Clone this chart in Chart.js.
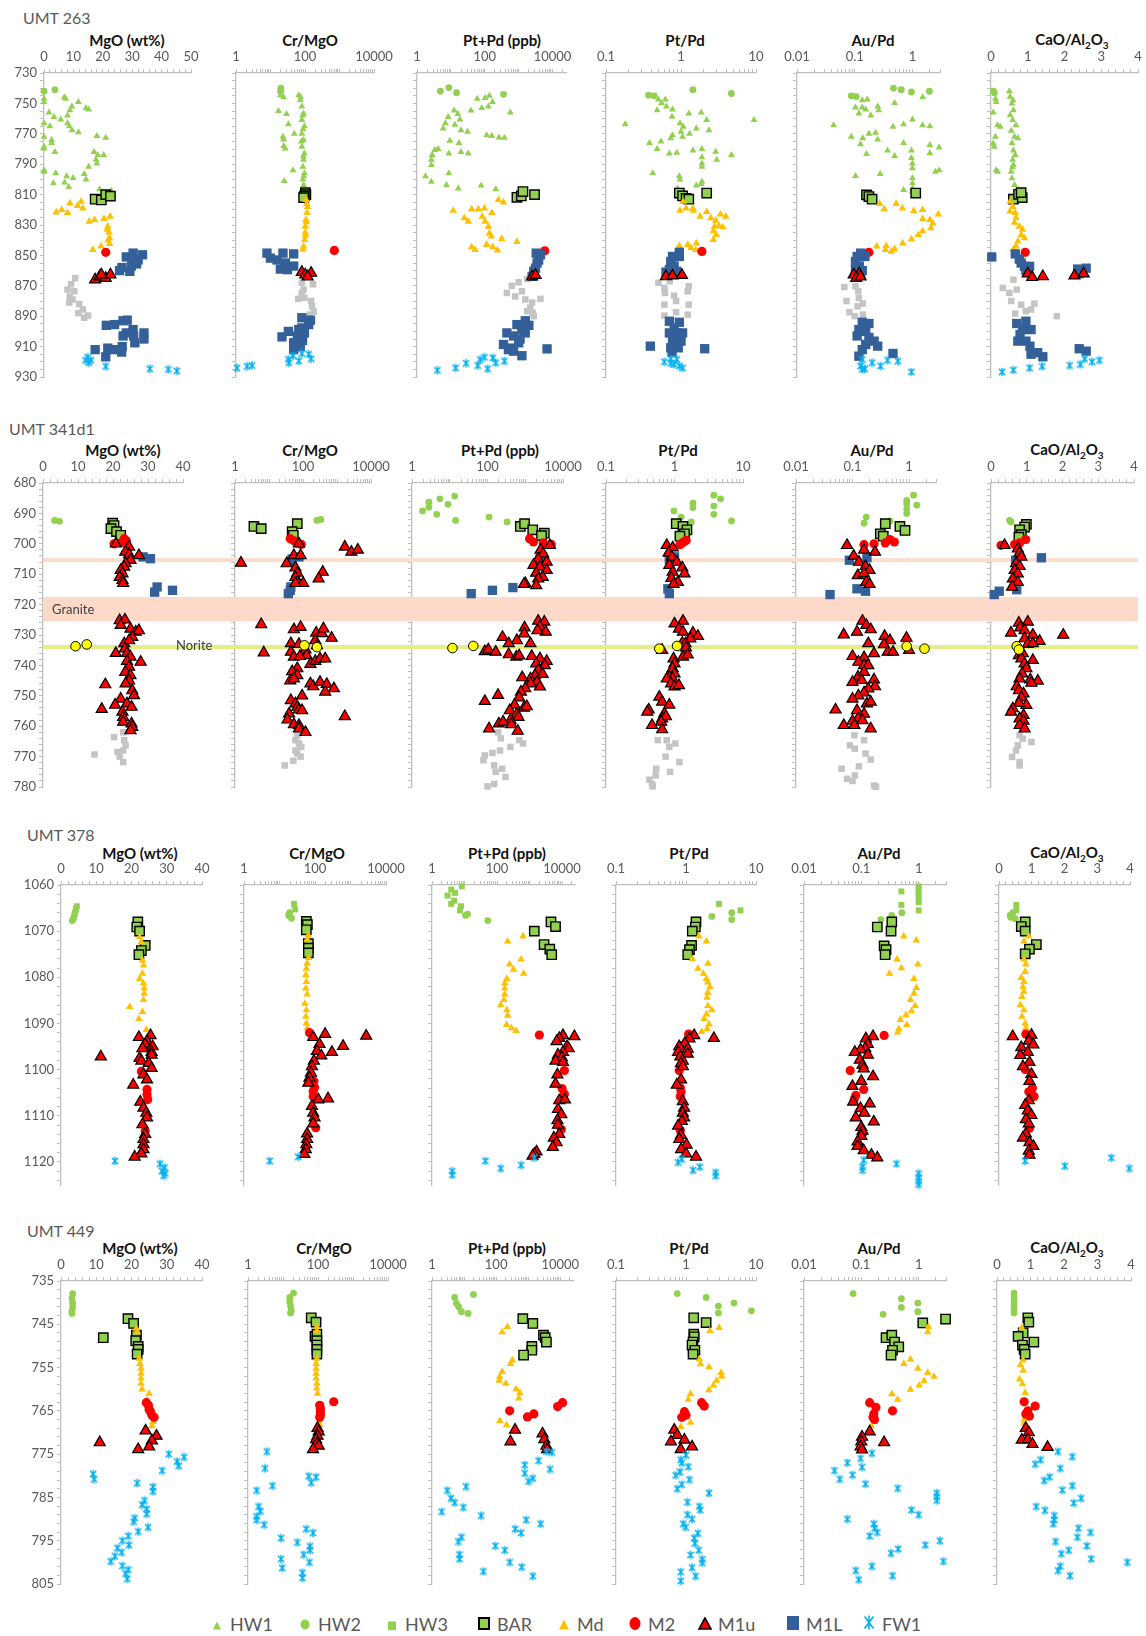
<!DOCTYPE html>
<html>
<head>
<meta charset="utf-8">
<script src="https://cdn.jsdelivr.net/npm/chart.js@4.4.1/dist/chart.umd.min.js"></script>
<style>
  body { margin: 0; background: #fff; font-family: Lato, "Open Sans", sans-serif; }
  #page { position: relative; width: 1146px; height: 1636px; overflow: hidden; }
  #page canvas { position: absolute; }
  .lbl { position: absolute; white-space: nowrap; transform: translate(-50%, -50%); }
  .ttl { font-weight: bold; font-size: 15px; color: #111; }
  .ttl sub { font-size: 10px; }
  .well { position: absolute; font-size: 16px; color: #595959; transform: translateY(-50%); }
  .band { position: absolute; font-size: 13px; color: #404040; transform: translateY(-50%); }
  .leg { position: absolute; font-size: 18px; color: #595959; transform: translateY(-50%); }
  .legm { position: absolute; transform: translate(-50%, -50%); }
</style>
</head>
<body>
<div id="page"></div>
<script>
// ---- labels ----
const wells = ['UMT 263', 'UMT 341d1', 'UMT 378', 'UMT 449'];
const variables = ['MgO (wt%)', 'Cr/MgO', 'Pt+Pd (ppb)', 'Pt/Pd', 'Au/Pd', 'CaO/Al<sub>2</sub>O<sub>3</sub>'];
const seriesNames = ['HW1', 'HW2', 'HW3', 'BAR', 'Md', 'M2', 'M1u', 'M1L', 'FW1'];

// depth axis (m) per well
const depthLimits = [[730, 930], [680, 780], [1060, 1125], [735, 805]];
const depthLabelStep = [20, 10, 10, 10];
const depthMinorStep = [5, 2, 2, 2];

// x axis ranges and tick labels
const mgoMax = [50, 40, 40, 40];
const ptpdMax = [25000, 10000, 25000, 25000];
const mgoLabels = [0, 10, 20, 30, 40, 50];
const crLabels = [1, 100, 10000];
const ptpdLabels = [1, 100, 10000];
const ptRatioLabels = [0.1, 1, 10];
const auPdLabels = [0.01, 0.1, 1];
const caoLabels = [0, 1, 2, 3, 4];

// UMT 341d1 bands: [from, to]
const granite = [717.5, 725.5];
const thinGranite = [704.7, 706.0];
const norite = [733.3, 734.6];

// ---- UMT 263 ----
const umt263_MgO = {
  HW1: [[0,747],[0,749],[6.9,746],[7.4,747],[11.7,749],[9.5,752],[14.3,753],[15.2,754],[1.7,756],[8.8,754.5],[8,758],[3.4,759],[5.7,760.6],[0,763],[8,763],[2,765],[8.6,765],[9.5,767.6],[11.7,769],[0,772],[18,771.5],[21,772.6],[2.6,774],[2.6,776],[0,778.5],[0,779.6],[3.7,782],[17,782],[18.3,784],[20.3,784],[17.7,787],[18,789.5],[15.2,791.7],[0,794],[0,795],[4,796],[13.7,796.5],[7.7,798],[9.9,799],[3.2,802.6],[7,802],[8.4,805],[14.3,800],[18.9,806.5],[22.9,807.4]],
  HW2: [[0,742],[3.7,741]],
  BAR: [[17.4,813],[19.5,813.5],[21,810],[22.6,811]],
  Md: [[4.2,821.6],[6,820],[8,822],[8.8,815.7],[11.4,817.4],[12.6,814.6],[13.2,819],[15.4,827.7],[17.2,826.6],[20.4,826],[22.5,824.4],[21.7,831],[22.1,835],[22.3,838.6],[22.3,842.4],[16.6,846.3],[19.4,844],[21.5,833],[21.8,840]],
  M2: [[21,848]],
  M1u: [[17.4,866],[18.9,864],[21,865],[22.6,862.7],[19.5,862.7]],
  M1L: [[28,851],[30.3,848.5],[33.5,849.6],[32,853],[30.3,854.5],[29.7,857],[31.5,855.6],[29.2,860.5],[25.7,860],[26.5,858],[21.2,896],[24,895.5],[26.9,893],[28.3,892.6],[30.3,898.8],[30.5,903],[34,901],[34,905],[30.9,907.5],[26.9,903],[26.6,910],[24,912],[21.7,911],[26.4,913.6],[17.4,912],[21,916.7],[28,901]],
  GR: [[10.6,865],[9.2,869],[8,872.5],[10.3,873.6],[8.8,877],[9.7,879],[8.6,881],[12,882],[13.2,885.6],[11.7,888],[15,889.6],[13.7,891]],
  FW1: [[14.9,917],[15.2,920.6],[16,919],[14.1,919],[21,923],[36,924.6],[42.3,925],[45.2,926]]
};
const umt263_CrMgO = {
  HW1: [[19.6,744.6],[24,746],[17,755],[29,757],[33,763.7],[23,772],[24,773.7],[49,770],[24,778],[26.8,779.6],[45,794],[25,801],[66,744.6],[73,748],[81,752],[91,756.7],[81,761],[96,765],[81,770],[91,774],[81,778.5],[96,783],[91,787],[87,791.6],[96,796],[87,800],[91,803.7],[75,746],[85,758],[88,767],[78,775],[90,785],[92,798]],
  HW2: [[20,740],[19.6,742]],
  BAR: [[102,808.7],[106,810],[96,811],[91,812]],
  Md: [[109,813.5],[119,818],[114,822],[106,826.6],[102,831],[102,835],[98,839.7],[91,844],[87,846],[112,816],[110,828],[104,837]],
  M2: [[707,846.7]],
  M1u: [[81,861],[102,862.7],[150,861.6],[119,864]],
  M1L: [[7.9,848.5],[9.9,851.8],[15.4,853],[23,848.5],[47,849],[27,855],[19.3,859],[31,859.4],[47,857],[81,891],[144,892.6],[81,897.7],[128,895.5],[66,898.8],[96,901],[33,900],[21.5,903.6],[47,907.5],[66,905],[47,912],[73,910],[60,903],[85,906]],
  GR: [[81,868],[170,869],[91,872.5],[81,874.6],[96,878],[63,878.6],[150,880],[160,883.5],[178,887],[137,889]],
  FW1: [[33,918.4],[45,916],[81,914.5],[128,915],[150,918],[34,920.6],[66,919.5],[1.07,924],[2.1,923],[2.9,922.4]]
};
const umt263_PtPd = {
  HW1: [[60,747],[102,746.5],[137,745],[170,749],[128,752],[81,753],[39,754.6],[12.5,754.6],[16,757],[8.3,759],[18.5,760.6],[6.9,763],[13.1,764],[19.8,767.6],[5.9,766.5],[31,768.7],[114,771],[162,771.5],[265,772.5],[380,772.6],[567,756],[9.3,774.6],[17.3,776],[3.35,780.7],[4.2,780],[2.8,784],[2.65,787],[2.65,790.6],[8.7,783],[19.8,782],[32.6,783],[1.77,798],[2.65,801.5],[8.7,796],[7.4,803.7],[16.5,806],[78,804],[211,806.5]],
  HW2: [[4.9,742],[8.7,739.6],[14.7,743],[357,744]],
  BAR: [[890,811.8],[1200,810.9],[1340,808],[2950,810]],
  Md: [[11.7,820.5],[24.9,825.5],[32.6,827.7],[41,819.6],[65,819.6],[98,819],[84,824.4],[102,827.7],[162,822],[253,813.5],[357,815],[128,831],[137,835.4],[155,837.5],[114,843],[173,844.5],[239,846.7],[317,839],[890,841],[41,844.5],[52,846.3]],
  M2: [[5900,847]],
  M1u: [[2500,864],[3160,863]],
  M1L: [[4400,849.6],[3900,853],[3500,855],[3160,858.4],[2800,860.5],[2500,863.8],[3300,848.5],[1570,893],[890,895.5],[1250,898.8],[450,901],[710,903],[1570,901],[1000,907.5],[357,908.6],[500,912],[710,913],[1250,916],[6900,911.5],[630,911],[1100,905],[2000,896]],
  GR: [[1780,865.5],[1000,867.7],[630,870],[450,874.7],[1250,873.6],[795,877],[1570,879],[2500,881],[4400,878.6],[2200,884.5],[2600,887.8],[1780,886.7],[2800,890]],
  FW1: [[4,925.6],[13.8,924],[28,921],[62,922.4],[73,918.5],[98,917],[173,917.4],[211,920.6],[122,924.6],[380,919.5]]
};
const umt263_PtRatio = {
  HW1: [[0.5,747.5],[0.55,749.7],[0.62,747.5],[0.64,752],[0.77,754],[0.76,758.8],[0.48,754.5],[0.18,763.7],[1.27,756.6],[1.86,756],[2.2,761],[0.97,763],[1.07,765.4],[1.6,766.5],[2.36,767.6],[1,768.7],[1.3,770],[0.77,771],[0.73,773],[1.05,772],[0.38,776],[0.54,775],[0.48,780],[0.7,783],[0.88,782.5],[1.44,781],[1.9,780],[2.9,781.8],[4.7,784],[3,787],[1.9,785.5],[1.9,789.5],[1.9,791.7],[9.4,761],[0.42,796],[0.95,798],[0.97,800],[1.9,801.5],[1.6,804],[0.9,806],[1.86,803]],
  HW2: [[0.37,744.6],[0.44,745],[1.44,741],[4.7,743.5]],
  BAR: [[0.95,809],[1.05,810.9],[1.17,812.4],[1.27,813],[2.2,809]],
  Md: [[1.07,814.6],[0.97,820.5],[1.17,819],[1.44,819],[1.47,820.5],[1.8,824.4],[2.2,821.3],[2.5,825.5],[2.9,827],[3.35,823],[3.95,824.4],[2.8,831],[3.2,830.6],[3.6,831.4],[2.7,834],[2.95,836.5],[2.7,839.7],[0.95,843.7],[1.23,843],[1.6,842],[1.57,846.3],[1.36,845]],
  M2: [[1.9,847.4]],
  M1u: [[0.63,863.8],[0.77,863.4],[1.03,863]],
  M1L: [[0.95,848],[0.77,850.7],[0.73,854],[0.81,857],[0.7,859.4],[0.88,860.5],[0.63,861],[0.95,850.7],[0.7,893.3],[0.95,894],[0.81,897.7],[0.7,901],[0.9,901],[1.05,901],[0.77,906.4],[1,906.4],[0.73,910.8],[0.92,910.8],[0.39,909.7],[2.07,911.4],[0.76,913.6]],
  GR: [[0.5,868],[0.6,871.4],[0.71,867],[0.61,874.7],[0.81,876.5],[1.27,870.3],[1.23,873.6],[0.86,880],[0.6,882.4],[1.27,882.4],[0.86,887.4],[0.6,889.6],[1.23,889]],
  FW1: [[0.6,920],[0.73,918],[0.88,918.4],[0.81,921.7],[0.95,922.8],[1.05,924],[0.73,921]]
};
const umt263_AuPd = {
  HW1: [[0.135,748],[0.165,747.5],[0.103,752.7],[0.135,752.7],[0.118,756.7],[0.155,754],[0.25,752],[0.26,754.5],[0.19,758],[0.49,749.7],[1.5,746],[0.043,764.3],[0.087,772],[0.138,773],[0.176,770],[0.23,769.3],[0.46,765.4],[0.7,763.7],[1,760.6],[1.5,764.3],[2,765],[0.126,776.8],[0.25,773.7],[0.37,781],[0.49,784.6],[0.7,776],[0.96,781],[2,777.4],[2.9,779],[2,782.8],[0.16,783.3],[0.96,786],[1,789.5],[1,792.7],[2.5,795],[2.9,794],[0.103,797.8],[0.276,796.5],[1,799],[1,802.6],[1,806],[0.7,807],[1,808]],
  HW2: [[0.087,745],[0.106,745.5],[0.47,740],[0.64,741],[0.96,742.5],[1.97,742]],
  BAR: [[0.16,810.2],[0.176,811.3],[0.2,813],[1.14,809]],
  Md: [[0.27,816],[0.325,819.6],[0.52,816],[0.67,819],[1.05,820.7],[1.5,820],[2.8,823],[1.5,826],[2,826.6],[2.25,828.8],[2.08,832],[1.5,834],[1.26,836.5],[0.96,839.3],[0.68,842],[0.49,845.8],[0.35,843.7],[0.24,844],[0.34,846.3],[0.43,847.4]],
  M2: [[0.176,848]],
  M1u: [[0.096,862.7],[0.12,862],[0.106,865],[0.126,864]],
  M1L: [[0.11,850.7],[0.127,848.5],[0.103,854],[0.12,857],[0.135,860],[0.103,859.4],[0.15,850.7],[0.135,894],[0.176,894.8],[0.118,898.8],[0.155,900],[0.11,903],[0.176,904],[0.217,906.4],[0.155,908.6],[0.135,912],[0.118,916.3],[0.46,914.5],[0.25,909.7]],
  GR: [[0.066,870.8],[0.103,870.3],[0.115,873.6],[0.072,880],[0.118,878],[0.138,881.7],[0.112,883.5],[0.081,887.4],[0.138,889],[0.1,890]],
  FW1: [[0.135,918.5],[0.126,922.8],[0.15,924.6],[0.2,920.6],[0.28,922.8],[0.37,919],[0.56,919.6],[0.96,926.7],[0.135,925]]
};
const umt263_CaO = {
  HW1: [[0.12,747],[0.14,749],[0.18,764.3],[0.25,765.4],[0.12,772],[0.06,776.3],[0.09,778.5],[0.14,794],[0.18,795],[0.5,742],[0.52,745.7],[0.57,750],[0.61,754.5],[0.52,757.8],[0.59,761],[0.68,764.3],[0.55,768],[0.64,772],[0.73,773],[0.57,776],[0.61,781],[0.66,784],[0.59,787],[0.61,790.5],[0.55,795],[0.57,799.3],[0.64,803.7],[0.75,807],[0.06,756],[0.6,748],[0.58,792]],
  HW2: [[0.06,742],[0.09,743]],
  BAR: [[0.61,813],[0.75,809.8],[0.85,812],[0.82,808.7]],
  Md: [[0.52,814.6],[0.59,818],[0.52,821],[0.66,822],[0.68,825.5],[0.64,828.4],[0.77,831],[0.86,833],[0.82,836.5],[0.91,838.6],[0.73,840.8],[0.68,844],[0.61,846]],
  M2: [[0.93,848]],
  M1u: [[1,862],[1.12,864.4],[1.41,863.8],[2.27,863.4],[2.52,862]],
  M1L: [[0.02,851],[0.66,849],[0.77,852.4],[0.82,855],[0.91,857.2],[1.05,857.2],[0.95,859.8],[2.36,859],[2.59,858.4],[2.4,862],[0.7,894.8],[0.95,893.3],[0.86,898.8],[1.09,898.8],[0.79,902],[0.95,906.4],[0.73,906.4],[1.06,909.7],[1.27,914],[1.41,916.7],[1.09,915],[2.4,911.4],[2.59,913]],
  GR: [[0.61,866],[0.32,871.4],[0.5,874.7],[0.7,872.5],[0.55,880],[0.82,882.4],[0.95,886.7],[0.66,888.3],[1.18,881.7],[1.79,890],[1.09,885.6]],
  FW1: [[0.3,926.7],[0.61,925.4],[1.05,924],[1.39,923],[2.14,922.4],[2.43,921.7],[2.55,918],[2.75,920],[2.95,919]]
};

// ---- UMT 341d1 ----
const umt341_MgO = {
  HW2: [[3.3,692.3],[4.7,692.6]],
  BAR: [[19.9,693.2],[20.3,694],[19.4,695],[21,696],[22.2,697.2]],
  M2: [[23.2,698.3],[22.7,699.4],[23.4,699.7],[20.3,700],[23.8,699]],
  M1u: [[20.8,700],[24.6,701],[23.5,702.7],[24.6,703.5],[27.4,703.8],[25,705.4],[23.6,706.5],[23.2,707.6],[22.2,708.7],[22.7,709.8],[21.9,711],[22.7,712],[22.9,713],[21.9,725.2],[23.4,725],[22.2,726.8],[25,728],[26.5,729],[25.5,730.7],[27.4,728.5],[23.2,732.8],[24.6,731.8],[20.8,736],[23.4,734.5],[24,736],[25,737.2],[24,738.6],[27.9,738.9],[24.6,740.5],[23.5,742.2],[25,743.3],[24.6,745],[23.6,746],[17.8,746.3],[25.5,748.2],[26,749.9],[22.2,751],[20.6,753],[24,752.6],[25.3,753.7],[16.8,754.4],[22.7,755.3],[22.9,757],[22.9,758.6],[25.3,759.2],[25.5,760.3],[25,761.4]],
  M1L: [[28.6,704.3],[30.7,704.9],[32.6,714.2],[31.9,715.9],[37,715.3]],
  NOR: [[9.3,733.7],[12.5,733.1]],
  GR: [[22.9,762],[20.3,763.6],[23.2,764.6],[23.6,766.3],[21.3,768.5],[14.7,769.3],[22.9,768],[21.9,770],[22.9,771.8]]
};
const umt341_CrMgO = {
  HW2: [[257,692.3],[334,692]],
  BAR: [[3.6,694.3],[5.9,695],[68,693.4],[48,696],[52,697.2]],
  M2: [[42,698.3],[54,699],[68,699.7],[89,700.2]],
  M1u: [[76,700],[54,703.8],[85,703.8],[1.5,706.3],[33,706.5],[60,707.9],[68,709.6],[60,711],[68,712.6],[101,713],[380,709.3],[287,711.5],[1700,701],[2650,702.7],[4100,702],[60,713],[5.9,726.5],[7,735.8],[54,728.2],[85,727.4],[44,732.8],[76,733],[118,734.8],[128,736.7],[44,735.6],[54,737.2],[81,737],[165,739.6],[230,738.6],[317,737.8],[245,729.3],[360,729.5],[400,727.9],[695,731],[230,731.8],[257,733.4],[450,737.8],[68,741],[48,742],[68,743.3],[42,745],[54,744.4],[165,746],[200,746.9],[317,745.5],[500,746.2],[810,747.6],[450,748.7],[94,750],[44,751.5],[60,752.6],[68,753.7],[39,755.9],[76,754.6],[94,754.8],[35,757.9],[54,759.4],[76,759.7],[76,760.8],[1700,756.8],[118,762]],
  M1L: [[48,705],[76,704.3],[44,705.7],[44,714.2],[42,715.3],[37,716.4]],
  NOR: [[110,733.4],[257,734]],
  GR: [[68,763],[60,764.6],[76,765.7],[89,766.8],[68,769],[85,770],[52,771.4],[29,772.9],[60,768]]
};
const umt341_PtPd = {
  HW2: [[1.9,689.2],[2.8,686.3],[2.8,688],[5.5,685.2],[9,687],[13.5,684.3],[4.5,690.3],[14.3,692.3],[110,691.2],[330,692.8]],
  BAR: [[740,694.3],[960,693.4],[1580,695.4],[3200,696.5],[2700,697.3]],
  M2: [[1300,698.3],[1650,699.4],[3000,699.7],[4900,700.2]],
  M1u: [[4500,700.5],[2550,702],[3000,703.3],[2200,705],[3700,706],[1650,707],[2450,707.6],[1950,709.6],[3700,708.7],[2900,711],[2200,711.5],[1000,713],[920,713.3],[1950,713.7],[2200,725.4],[3200,725.7],[2450,727.2],[3500,729],[2100,728.5],[960,727.6],[600,731.8],[940,729.6],[250,730.7],[365,732.8],[1370,732.8],[85,735.4],[105,734.8],[165,735.6],[365,736.4],[580,737.2],[690,736.8],[1480,737],[2450,737.8],[3700,738.6],[3300,740],[1950,739.4],[2200,741.6],[2900,742.9],[1810,743.3],[1370,744.4],[830,744],[2050,745.5],[2450,747],[1400,746],[1000,747.6],[770,748.7],[690,750.6],[85,751.8],[190,749.8],[520,753],[920,754],[1100,753.5],[390,754.8],[600,756],[660,757],[405,758],[200,759.2],[260,758.6],[425,759.4],[110,760.8],[630,761.6]],
  M1L: [[2450,705],[2900,704.3],[37,716.4],[135,715.3],[470,714.4]],
  NOR: [[11.8,734.3],[42,733.6]],
  GR: [[190,762],[225,764],[405,766.8],[690,764.6],[870,765.7],[215,768],[135,768.8],[85,769.6],[78,771.2],[150,772.9],[245,774],[300,776.7],[165,775],[150,779],[100,779.8]]
};
const umt341_PtRatio = {
  HW2: [[0.98,689.2],[1.25,691.2],[1.86,686.6],[1.86,688.1],[3.75,684],[4.7,685.2],[3.75,687.6],[3.75,690.3],[6.8,692.5],[1.76,692.8]],
  BAR: [[1.06,693.4],[1.33,694.3],[1.52,695.4],[1.4,696.7],[1.2,697.5]],
  M2: [[1.25,700],[1.36,699.4],[1.48,698.9],[1.2,700.3]],
  M1u: [[0.77,700.5],[0.94,701.3],[0.82,703],[0.92,704.3],[0.84,707],[1.08,706],[1.3,707.9],[1.4,709.8],[0.94,709.3],[0.9,711.3],[1.12,712.6],[0.97,713.3],[1,726.3],[1.33,725.4],[1.16,728],[1.33,729],[1.86,729.3],[2.2,730.4],[1.7,731.2],[1.3,732.6],[1.45,732.8],[1.47,734.2],[0.66,735],[1.33,737.2],[1.56,736.5],[0.97,737.8],[1,739.4],[0.94,741],[1,742.7],[0.84,743.8],[0.94,744.4],[0.77,744.4],[0.89,746],[1,747],[1.16,746.6],[0.6,750.4],[0.66,752],[0.84,753],[0.42,754.6],[0.4,755.3],[0.71,755.9],[0.66,757.5],[0.75,756.8],[0.64,758.6],[0.47,759.7],[0.66,761.1]],
  M1L: [[0.84,705.2],[1,704.3],[0.8,714.8],[0.84,716.4]],
  NOR: [[0.6,734.5],[1.09,733.6]],
  GR: [[0.57,764.6],[0.77,764.6],[0.84,766.8],[1.03,765.7],[0.74,770],[1.18,771.8],[0.86,775],[0.54,774],[0.53,776.2],[0.43,777.6],[0.47,779],[0.48,779.8]]
};
const umt341_AuPd = {
  HW2: [[0.91,685.7],[0.91,686.8],[0.91,688.4],[0.91,690],[1.2,684],[1.37,687.3],[0.175,691.2],[0.16,693.2],[0.46,692.5]],
  BAR: [[0.38,693.4],[0.31,696.7],[0.35,697.5],[0.69,694.3],[0.85,695.6]],
  M2: [[0.16,700.3],[0.24,700],[0.38,699.7],[0.46,698.6],[0.55,699.4]],
  M1u: [[0.08,700.5],[0.105,704],[0.16,702],[0.25,702.7],[0.13,706],[0.17,707.4],[0.2,708.7],[0.124,710.4],[0.16,709.8],[0.175,712.6],[0.2,713.3],[0.15,725.4],[0.175,726.8],[0.21,728.2],[0.12,729],[0.07,729.9],[0.19,732.8],[0.37,730.4],[0.46,731.8],[0.36,733.1],[0.9,731],[0.42,735.6],[0.52,735.6],[1,735],[0.1,737],[0.24,736.1],[0.16,737.4],[0.127,738.9],[0.16,740],[0.19,740],[0.125,743.8],[0.16,742.2],[0.145,744.9],[0.1,745.5],[0.24,744.7],[0.25,746.9],[0.19,747.7],[0.16,749],[0.127,750],[0.1,751],[0.18,752.6],[0.21,752],[0.05,754.6],[0.12,754.8],[0.16,756],[0.125,757.5],[0.1,758.3],[0.15,758.1],[0.07,759.7],[0.108,759.7],[0.21,760.8]],
  M1L: [[0.088,705.4],[0.18,704.6],[0.12,714.8],[0.17,715.6],[0.04,716.7]],
  NOR: [[0.91,733.7],[1.88,734.5]],
  GR: [[0.108,763],[0.16,764.6],[0.09,766.3],[0.11,767.4],[0.17,769],[0.21,771],[0.064,774],[0.13,773.2],[0.11,776.2],[0.08,777.3],[0.1,778],[0.24,779.5],[0.26,779.9]]
};
const umt341_CaO = {
  HW2: [[0.52,692.3],[0.56,692.8]],
  BAR: [[0.99,693.6],[0.94,694.5],[0.8,695.4],[0.85,697],[0.78,697.8]],
  M2: [[0.28,700.5],[0.66,700.2],[0.8,699.7],[0.97,698.6]],
  M1u: [[0.38,700.5],[0.75,701.6],[0.8,703],[0.85,704.3],[0.7,706.5],[0.8,707.4],[0.66,708.7],[0.75,709.8],[0.61,711.5],[0.75,712.6],[0.59,714.2],[0.78,726],[1.03,725.7],[0.82,727.6],[0.94,728.5],[0.56,729.3],[1.17,730],[1.36,732],[2.02,730],[0.94,731.1],[1.03,733],[1.17,732.8],[0.78,736.7],[0.89,736.1],[0.85,737.8],[1.17,738.3],[0.94,739.4],[0.99,741],[0.87,742.7],[0.8,744.4],[1.1,744.7],[1.31,745.1],[1.13,745.8],[0.72,746.9],[0.78,748.2],[0.91,749.3],[0.85,750.6],[0.99,753.1],[0.78,752.4],[0.61,754.2],[0.56,755.3],[0.91,756.4],[0.8,757.5],[0.91,758.3],[0.8,759.7],[0.94,760.8]],
  M1L: [[0.69,705.4],[1.41,704.6],[0.23,715.6],[0.09,716.7],[0.72,715.1]],
  NOR: [[0.72,733.7],[0.78,734.8]],
  GR: [[0.8,763],[0.89,764.1],[1.13,765.2],[0.75,766.3],[0.7,768],[0.59,770.1],[0.8,771.8],[0.8,772.9]]
};

// ---- UMT 378 ----
const umt378_MgO = {
  HW2: [[4,1065.9],[3.8,1066.6],[3.5,1067.3],[3.2,1067.7]],
  HW3: [[4.5,1064.6],[4.2,1065.2]],
  BAR: [[21.8,1068],[21.5,1069.1],[22.3,1070],[23.9,1073.1],[22.8,1074.2],[22.1,1075.1]],
  Md: [[22.3,1071.3],[22.8,1072.4],[23.1,1076.3],[23.4,1077.4],[23.1,1079.2],[22.3,1080.3],[23.4,1081.3],[23.6,1082.4],[23.6,1083.5],[23.4,1084.9],[19.5,1086.4],[23.1,1087.5],[22.1,1089],[24.2,1091.4]],
  M2: [[22.8,1100.4],[24.4,1104.3],[24.4,1105.4],[24.6,1106.5],[23.9,1113.3]],
  M1u: [[22.1,1093],[25.4,1092.6],[24.4,1093.8],[23.9,1094.5],[26,1095],[23.1,1095.4],[25.7,1096.2],[25.7,1096.8],[11.3,1097.2],[22.3,1097.5],[22.8,1098.1],[24.9,1098.6],[25.7,1099.7],[23.4,1101.1],[24.4,1102.2],[20.5,1103.3],[22.5,1107],[23.4,1108.3],[24.2,1109.4],[24.4,1110.4],[23.1,1111.9],[23.9,1114],[23.4,1115.1],[23.4,1116.2],[23.4,1117.3],[22.8,1118.2],[20.9,1118.9]],
  FW1: [[15.3,1119.8],[28.1,1120.4],[29.4,1121.2],[28.6,1122],[29.6,1122.5],[29.1,1123]]
};
const umt378_CrMgO = {
  HW2: [[19.2,1066],[18,1066.6],[21.7,1067.2]],
  HW3: [[25.7,1064.1],[27.7,1065.3]],
  BAR: [[57,1067.9],[61,1068.6],[57,1069.7],[65,1072.7],[65,1073.7],[65,1074.7]],
  Md: [[65,1070.9],[60,1071.8],[66,1075.8],[60,1077],[57,1078.1],[55,1079.5],[57,1081],[55,1082.4],[60,1083.7],[52,1085.7],[57,1087.1],[55,1088.5],[57,1090],[60,1091]],
  M2: [[70,1092],[93,1102.5],[97,1103.8],[89,1104.7],[89,1105.8],[105,1112.6]],
  M1u: [[89,1093],[193,1092.3],[2760,1092.7],[134,1094.5],[620,1094.9],[113,1096],[300,1096.2],[150,1097],[93,1098.1],[82,1099.3],[77,1100.7],[70,1101.8],[65,1102.9],[124,1106.5],[233,1106.3],[82,1107.9],[89,1109.4],[97,1110.4],[89,1111.7],[60,1113.9],[60,1115.1],[57,1116.2],[55,1117.3],[50,1118.3]],
  FW1: [[5.3,1119.8],[33.6,1118.9]]
};
const umt378_PtPd = {
  HW2: [[10.8,1066.6],[12.4,1066.3],[52,1067.7]],
  HW3: [[8.3,1060.3],[3.9,1061],[5.1,1061.7],[3,1062.3],[4.8,1063.4],[3.9,1064.1],[7.8,1064.6],[7.2,1065.5]],
  BAR: [[4560,1068],[6300,1069],[1400,1070],[2800,1072.9],[4200,1073.9],[4800,1075.1]],
  Md: [[213,1072.2],[630,1071.1],[244,1077.2],[320,1078.3],[550,1076.1],[660,1079.2],[200,1080.3],[172,1081.3],[172,1082.4],[172,1083.7],[163,1084.9],[130,1086],[200,1087.1],[213,1088.3],[196,1090.3],[278,1091],[385,1091.6]],
  M2: [[2000,1092.5],[11800,1100.2],[10000,1104.1],[11800,1105.3],[9500,1113]],
  M1u: [[24000,1092.8],[10700,1092.6],[8200,1093.2],[6800,1093.9],[14100,1095],[16000,1095.4],[10700,1096.2],[7500,1096.8],[9900,1097.4],[6300,1098.1],[10700,1098.4],[7200,1101.1],[6300,1103.1],[8200,1106.7],[12300,1106.5],[7500,1108.6],[9500,1109.7],[7200,1111],[7500,1112],[8200,1114],[5600,1114.8],[6800,1115.8],[5200,1116.8],[1640,1117.8],[1400,1118.3],[1240,1118.7]],
  FW1: [[1400,1119.1],[44,1119.8],[130,1121.4],[550,1120.7],[4.2,1122],[4.2,1122.8]]
};
const umt378_PtRatio = {
  HW2: [[2.34,1066.8],[4.5,1066],[4.5,1067.5]],
  HW3: [[2.96,1064.1],[6,1065.5]],
  BAR: [[1.39,1068],[1.36,1069.1],[1.23,1070],[1.2,1073.1],[1.12,1074],[1.06,1075.1]],
  Md: [[1.53,1071.1],[1.96,1072.2],[1.23,1076],[2.05,1077],[1.48,1078.1],[1.77,1079.2],[1.96,1080.3],[2.05,1081.1],[2.2,1082.1],[2.05,1083.3],[2,1084.4],[2.05,1086.2],[2.34,1087.1],[1.96,1088],[1.82,1089],[2.13,1090.2],[1.67,1091.8],[2,1091.2]],
  M2: [[1.09,1092.3],[0.8,1100.2],[0.83,1104],[0.85,1104.8],[0.83,1105.8],[0.83,1113.2]],
  M1u: [[1.31,1092.6],[2.5,1093.2],[1.12,1093.3],[0.96,1094.3],[0.8,1095],[1.06,1095.5],[0.77,1096.2],[1.06,1096.6],[0.83,1097.2],[0.9,1098.1],[0.85,1098.6],[0.9,1099.3],[0.85,1102.2],[0.74,1103.3],[0.9,1106.9],[0.94,1108.3],[0.9,1109.4],[0.94,1110.4],[0.87,1111.2],[0.77,1112.2],[0.85,1114.2],[0.8,1115.1],[1.02,1116.3],[0.85,1117.3],[1,1118.2],[1.39,1118.9]],
  FW1: [[0.77,1120.1],[0.87,1119.4],[1.26,1121.8],[1.57,1121.1],[2.65,1122.3],[2.65,1123]]
};
const umt378_AuPd = {
  HW2: [[0.51,1066],[0.34,1066.6],[0.22,1067.5]],
  HW3: [[0.5,1061.4],[1,1060.3],[1,1061],[1,1062],[1,1062.9],[1,1063.7],[0.5,1064.3],[1,1065.5]],
  BAR: [[0.34,1068],[0.19,1069.1],[0.33,1070],[0.25,1073.2],[0.27,1074],[0.26,1075.1]],
  Md: [[0.55,1071.1],[0.91,1072],[0.42,1076.1],[0.5,1078],[0.97,1077.2],[0.31,1079.2],[0.83,1080.3],[0.91,1082.3],[0.83,1083.5],[0.72,1084.9],[0.87,1086.2],[0.75,1087.3],[0.6,1088.2],[0.48,1089.2],[0.62,1090.3],[0.43,1091.9],[0.45,1091.2]],
  M2: [[0.25,1092.6],[0.064,1100.2],[0.11,1104.3],[0.08,1105.6],[0.075,1106.5],[0.105,1113.9]],
  M1u: [[0.16,1092.8],[0.12,1093.3],[0.13,1094.5],[0.117,1095.4],[0.097,1095.7],[0.077,1096.2],[0.13,1096.8],[0.094,1097.9],[0.105,1099],[0.11,1099.8],[0.16,1101.5],[0.1,1102.5],[0.07,1103.6],[0.072,1107],[0.14,1107.4],[0.097,1108.4],[0.113,1109.4],[0.08,1110.4],[0.165,1111.3],[0.1,1112.5],[0.105,1113.3],[0.1,1114.4],[0.086,1115.6],[0.086,1116.6],[0.11,1117.5],[0.15,1118.5],[0.19,1119.1]],
  FW1: [[0.11,1119.6],[0.105,1121.1],[0.105,1121.8],[0.41,1120.4],[1,1122.5],[1,1123.4],[1,1124.2],[1,1124.9]]
};
const umt378_CaO = {
  HW2: [[0.34,1066.6],[0.42,1066],[0.5,1067.3],[0.36,1067]],
  HW3: [[0.53,1064.3],[0.53,1065.5]],
  BAR: [[0.8,1068],[0.68,1069],[0.8,1070],[1.14,1072.9],[0.93,1073.9],[0.8,1074.9]],
  Md: [[0.91,1071.1],[0.76,1072.2],[0.76,1076.1],[0.82,1077.2],[0.8,1078.8],[0.68,1080.1],[0.76,1081],[0.73,1082.1],[0.76,1083.1],[0.7,1084.2],[0.65,1086],[0.76,1087.1],[0.7,1088.5],[0.8,1090],[0.82,1091]],
  M2: [[0.82,1092.3],[0.8,1100],[1.02,1104],[0.91,1104.8],[1.07,1105.8],[0.93,1112.7]],
  M1u: [[0.42,1092.8],[0.99,1092.5],[0.91,1093.8],[1.05,1094.6],[0.68,1095.2],[0.88,1096.2],[0.65,1096.9],[0.93,1098.4],[0.73,1099.3],[0.99,1101],[0.93,1102.5],[0.91,1106.7],[0.8,1107.7],[0.88,1108.9],[0.99,1109.9],[0.82,1110.8],[0.91,1111.7],[0.82,1113.9],[0.73,1114.8],[0.93,1115.8],[1.05,1116.6],[0.91,1117.6],[0.93,1118.5]],
  FW1: [[0.8,1119.8],[2.01,1120.9],[3.43,1119.1],[3.98,1121.4]]
};

// ---- UMT 449 ----
const umt449_MgO = {
  HW2: [[3.3,737.9],[3.1,739.1],[3.3,740.1],[3.3,741.1],[3.1,742.1],[3.1,742.5]],
  BAR: [[19,743.7],[20.6,744.8],[12,748.1],[21.4,747.5],[21.2,748.8],[21.9,750.1],[21.9,750.8],[21.6,751.9]],
  Md: [[21.4,746],[21.6,746.8],[22.2,752.9],[22.4,754.1],[22.7,755.2],[22.7,756.4],[22.7,757.5],[22.7,758.7],[23,760],[25,761],[24.5,762.5],[26.1,767.5],[25.8,768.5]],
  M2: [[24.2,763.1],[24.8,763.7],[25,764.7],[25.4,765.2],[25.8,766],[26.4,766.5]],
  M1u: [[24,769.6],[27.1,770.8],[11,772.3],[25.8,771.9],[25,773.3],[21.9,773.9]],
  FW1: [[30.6,775],[34.9,775.7],[32.9,776.7],[33.4,777.7],[28.7,778.8],[9.1,779.6],[9.4,780.8],[21.6,781.7],[26.1,782.6],[26.1,783.6],[23.7,785.7],[23,786.7],[24.3,787.7],[24.3,788.8],[20.9,789.8],[20.6,790.6],[24.7,791.9],[21.9,792.9],[19.1,793.9],[17.4,795],[19.3,796],[16,796.7],[17.2,797.7],[15.3,798.6],[14.1,799.8],[17.4,800.8],[19.1,801.7],[18.3,802.6],[18.8,803.8]]
};
const umt449_CrMgO = {
  HW2: [[20,737.8],[15.6,738.8],[15.6,739.8],[16.4,740.8],[17.2,741.8],[16.4,742.4]],
  BAR: [[64,743.5],[88,744.5],[82,747.8],[93,747.3],[93,748.8],[93,749.8],[93,750.8],[93,751.9]],
  Md: [[93,745.6],[93,746.5],[93,752.9],[88,754.1],[88,755.2],[88,756.4],[88,757.5],[93,758.7],[93,759.8],[97,761],[105,767.5],[112,768.3]],
  M2: [[282,762.9],[112,763.7],[117,764.4],[117,765.2],[117,766],[112,766.5]],
  M1u: [[97,769],[105,769.8],[97,770.8],[88,771.6],[93,772.5],[105,773.1],[72,773.9]],
  FW1: [[3.45,774.4],[3.05,778.3],[5,782.3],[1.77,783.4],[2,787.1],[2.26,788.2],[1.77,789.4],[1.77,790.2],[2.9,791.3],[8.8,794.4],[8.8,799.2],[9.5,801.3],[54,780.1],[88,780.3],[64,781.6],[25.6,795.4],[59,796.3],[59,797.2],[39,798.2],[57,800],[46,792.3],[72,793.2],[36,802.4],[36,803.6]]
};
const umt449_PtPd = {
  HW2: [[5.1,738.8],[5.8,740.2],[6.8,741],[8.3,742.1],[13.4,742.5],[19.7,738.1]],
  BAR: [[680,743.7],[1400,744.8],[3000,747.5],[3400,748.1],[3700,749.1],[1300,750.1],[1300,751],[720,752.1]],
  Md: [[155,746.8],[225,745.6],[320,753.3],[280,754.1],[155,756],[130,757.1],[125,758],[200,758.7],[420,760],[550,760.8],[510,762.1],[130,767.3],[212,768.3]],
  M2: [[265,765],[950,766.4],[1500,765.7],[8300,764],[11800,763.1]],
  M1u: [[390,769.4],[280,772.1],[2800,770.3],[3200,771.6],[3700,773.1],[3900,773.9]],
  FW1: [[3700,774.4],[5500,774.6],[2100,776.5],[4800,778.5],[780,777.5],[780,779.4],[1020,781.3],[1400,780.6],[11.5,782.5],[3,783.4],[3.9,785.2],[5.1,786.2],[9.5,787.3],[2,788.3],[34,789.2],[870,790.2],[2440,791.1],[390,792.3],[600,793.2],[8.3,794.2],[6.6,795.2],[95,796.2],[186,797.2],[7.2,798.2],[7.2,799.2],[265,800],[630,801.1],[40,802.1],[1400,803.2]]
};
const umt449_PtRatio = {
  HW2: [[0.75,737.9],[1.94,738.8],[2.9,740.8],[2.9,742.4],[4.85,740.1],[8.6,741.9]],
  BAR: [[1.29,743.5],[1.94,744.6],[1.29,747.3],[1.31,747.9],[1.26,749.1],[1.22,749.8],[1.34,751],[1.26,751.9]],
  Md: [[2.97,745.8],[2.2,746.5],[1.55,753.1],[1.61,754.2],[2.13,754.9],[3.16,756.2],[3.24,757.1],[2.73,758],[2.47,759.1],[2.13,760.2],[1.16,761.1],[1.08,762.4],[1.16,767.7],[0.84,768.7]],
  M2: [[1.67,763.1],[1.82,763.9],[0.95,765.2],[1,766],[0.87,766.5]],
  M1u: [[0.68,769.4],[0.75,770.6],[0.61,772.1],[0.95,771.7],[1.22,773.3],[0.84,773.9]],
  FW1: [[1,775.2],[0.84,776.3],[0.87,777],[1.08,777.9],[0.82,779.1],[0.71,779.9],[1.12,780.9],[0.87,782],[0.75,783],[2.13,784],[1.05,786.1],[1.55,787.1],[1.6,787.9],[1.05,789],[1.22,790],[0.91,791.1],[0.99,791.9],[1.48,793.3],[1.31,794.4],[1.34,795.6],[1.52,797.2],[1.16,798.3],[1.71,799.3],[1.71,800.1],[1.22,801.2],[0.84,802.2],[1.37,803.2],[0.84,804.3]]
};
const umt449_AuPd = {
  HW2: [[0.072,737.9],[0.5,739.1],[0.5,741.1],[0.97,740.1],[0.97,742.1],[0.24,742.7]],
  BAR: [[2.95,743.8],[1.18,744.7],[0.27,748.1],[0.34,747.5],[0.38,749.1],[0.45,750.2],[0.35,751],[0.33,752.1]],
  Md: [[1.48,745.6],[1.44,746.8],[0.72,753.1],[0.55,754.1],[0.97,755.2],[1.44,756.2],[1.86,757.1],[1.24,758.1],[1.02,759.1],[0.72,760.1],[0.34,761.1],[0.43,762.4],[0.17,767.5],[0.15,768.5]],
  M2: [[0.14,763.1],[0.18,764.2],[0.35,765],[0.165,765.7],[0.16,766.5],[0.17,767]],
  M1u: [[0.14,769.8],[0.103,771],[0.25,772.3],[0.1,772.1],[0.097,773.3],[0.103,774]],
  FW1: [[0.153,774.8],[0.097,776],[0.057,777],[0.103,778],[0.034,778.8],[0.07,779.8],[0.042,780.8],[0.118,781.9],[0.43,782.9],[2.07,784],[2.07,784.8],[2.07,785.7],[0.75,787.9],[1,789],[0.057,790],[0.165,791.1],[0.17,792.1],[0.19,793.1],[0.14,793.9],[1.31,796],[2.34,795],[0.44,796.9],[0.33,797.9],[2.7,799.8],[0.153,800.9],[0.08,801.9],[0.35,803.1],[0.09,804]]
};
const umt449_CaO = {
  HW2: [[0.51,737.8],[0.51,738.7],[0.51,739.6],[0.51,740.6],[0.51,741.6],[0.51,742.4]],
  BAR: [[0.92,743.5],[0.95,744.5],[0.78,747],[0.63,747.8],[1.1,749.1],[0.76,749.8],[0.81,750.8],[0.84,751.9]],
  Md: [[0.74,745.8],[0.78,753.3],[0.7,754.4],[0.78,755.7],[0.67,757.7],[0.76,758.8],[0.84,760.8],[0.81,767.9],[0.81,767]],
  M2: [[0.81,762.9],[1.14,763.9],[0.92,765],[0.86,765.7],[0.97,766.2]],
  M1u: [[0.86,769],[0.95,770],[0.74,771.7],[0.92,771.6],[1.06,772.7],[1.51,773.4]],
  FW1: [[1.82,774.4],[2.25,775.6],[1.14,777.3],[1.3,776.3],[1.89,778.3],[1.57,780.3],[1.41,781.1],[2.25,782.3],[1.95,783.3],[2.29,786.3],[2.51,785.2],[1.17,787.1],[1.43,788],[1.71,789.2],[1.71,790.2],[1.68,791.1],[2.43,792.1],[2.79,793.1],[2.4,794.2],[1.75,795.2],[2.68,796.2],[2.14,797.2],[1.92,798],[2.81,799.2],[3.89,800],[1.89,800.9],[1.82,801.9],[2.18,803.1]]
};

const wellData = [
  [umt263_MgO, umt263_CrMgO, umt263_PtPd, umt263_PtRatio, umt263_AuPd, umt263_CaO],
  [umt341_MgO, umt341_CrMgO, umt341_PtPd, umt341_PtRatio, umt341_AuPd, umt341_CaO],
  [umt378_MgO, umt378_CrMgO, umt378_PtPd, umt378_PtRatio, umt378_AuPd, umt378_CaO],
  [umt449_MgO, umt449_CrMgO, umt449_PtPd, umt449_PtRatio, umt449_AuPd, umt449_CaO]
];

// ---- page layout (pixels) ----
const layout = [
  { top: 73, bottom: 377, titleY: 40, name: [23, 17], tx: [127, 310, 502, 685, 873, 1072],
    axes: [[44, 191], [236, 374], [417, 566], [606, 756], [797, 940], [991, 1138]] },
  { top: 483, bottom: 787, titleY: 450, name: [9, 428], tx: [123, 310, 500, 678, 872, 1067],
    axes: [[43, 183], [235, 371], [412, 563], [606, 743], [796, 936], [991, 1134]] },
  { top: 885, bottom: 1185, titleY: 853, name: [27, 834], tx: [140, 317, 507, 689, 879, 1067],
    axes: [[61, 202], [244, 386], [432, 575], [616, 756], [804, 946], [999, 1130]] },
  { top: 1281, bottom: 1584, titleY: 1248, name: [27, 1230], tx: [140, 324, 507, 689, 879, 1067],
    axes: [[61, 202], [248, 388], [432, 573], [616, 756], [804, 946], [997, 1131]] }
];

function starMarker(size, color) {
  const c = document.createElement('canvas');
  c.width = size; c.height = size;
  const g = c.getContext('2d');
  const m = size / 2, r = size / 2 - 0.8, d = r * 0.75;
  g.strokeStyle = color; g.lineWidth = 1.4;
  g.beginPath();
  g.moveTo(m - d, m - d); g.lineTo(m + d, m + d);
  g.moveTo(m + d, m - d); g.lineTo(m - d, m + d);
  g.moveTo(m, m - r); g.lineTo(m, m + r);
  g.stroke();
  return c;
}

const styles = {
  HW1: { pointStyle: 'triangle', pointRadius: 4, pointBackgroundColor: '#92D050', pointBorderWidth: 0 },
  HW2: { pointStyle: 'circle', pointRadius: 3.4, pointBackgroundColor: '#92D050', pointBorderWidth: 0 },
  HW3: { pointStyle: 'rect', pointRadius: 4.2, pointBackgroundColor: '#92D050', pointBorderWidth: 0 },
  BAR: { pointStyle: 'rect', pointRadius: 6.6, pointBackgroundColor: '#92D050', pointBorderColor: '#000', pointBorderWidth: 1.4 },
  Md: { pointStyle: 'triangle', pointRadius: 4.4, pointBackgroundColor: '#FFC000', pointBorderWidth: 0 },
  M2: { pointStyle: 'circle', pointRadius: 4.6, pointBackgroundColor: '#FF0000', pointBorderWidth: 0 },
  M1u: { pointStyle: 'triangle', pointRadius: 6.4, pointBackgroundColor: '#FF0000', pointBorderColor: '#000', pointBorderWidth: 1.2 },
  M1L: { pointStyle: 'rect', pointRadius: 6.6, pointBackgroundColor: '#34609A', pointBorderWidth: 0 },
  FW1: { pointStyle: starMarker(10, '#00B0F0') },
  GR: { pointStyle: 'rect', pointRadius: 4.6, pointBackgroundColor: '#C4C4C4', pointBorderWidth: 0 },
  NOR: { pointStyle: 'circle', pointRadius: 4.8, pointBackgroundColor: '#FFFF00', pointBorderColor: '#000', pointBorderWidth: 1 }
};
const drawOrder = ['GR', 'HW1', 'HW2', 'HW3', 'BAR', 'Md', 'M2', 'M1L', 'M1u', 'NOR', 'FW1'];

function logTicks(min, max) {
  const out = [];
  for (let e = Math.floor(Math.log10(min)); e <= Math.ceil(Math.log10(max)); e++) {
    for (let m = 1; m <= 9; m++) {
      const v = m * Math.pow(10, e);
      if (v >= min * 0.9999 && v <= max * 1.0001) out.push(v);
    }
  }
  return out;
}
function linTicks(min, max, step) {
  const out = [];
  const n = Math.floor((max - min) / step + 1e-9);
  for (let i = 0; i <= n; i++) out.push(+(min + i * step).toFixed(6));
  return out;
}
function findLabel(labels, v) {
  const hit = labels.find(l => Math.abs(l - v) <= 1e-9 * Math.max(1, Math.abs(l)));
  return hit === undefined ? '' : String(hit);
}

function xAxisFor(row, col) {
  switch (col) {
    case 0: return { type: 'linear', min: 0, max: mgoMax[row], ticks: linTicks(0, mgoMax[row], 2), labels: mgoLabels };
    case 1: return { type: 'logarithmic', min: 1, max: 10000, ticks: logTicks(1, 10000), labels: crLabels };
    case 2: return { type: 'logarithmic', min: 1, max: ptpdMax[row], ticks: logTicks(1, ptpdMax[row]), labels: ptpdLabels };
    case 3: return { type: 'logarithmic', min: 0.1, max: 10, ticks: logTicks(0.1, 10), labels: ptRatioLabels };
    case 4: return { type: 'logarithmic', min: 0.01, max: 3, ticks: logTicks(0.01, 3), labels: auPdLabels };
    default: return { type: 'linear', min: 0, max: 4, ticks: linTicks(0, 4, 0.2), labels: caoLabels };
  }
}

// shaded horizons, drawn under the points
const bandPlugin = {
  id: 'bands',
  beforeDatasetsDraw(chart, args, opts) {
    if (!opts.show) return;
    const y = chart.scales.y, ctx = chart.ctx, area = chart.chartArea;
    const x0 = opts.first ? area.left : 0;
    const x1 = opts.last ? area.right + 4 : chart.width;
    const list = [[thinGranite, '#FCDCCD'], [granite, '#FCD9C8'], [norite, '#E5EE85']];
    ctx.save();
    list.forEach(([b, col]) => {
      const a = y.getPixelForValue(b[0]), c = y.getPixelForValue(b[1]);
      ctx.fillStyle = col;
      ctx.fillRect(x0, a, x1 - x0, c - a);
    });
    ctx.restore();
  }
};

const page = document.getElementById('page');
const tickFont = { family: 'Lato', size: 13 };
const axisGray = '#BFBFBF';

function addText(cls, html, x, y) {
  const d = document.createElement('div');
  d.className = cls;
  d.innerHTML = html;
  d.style.left = x + 'px';
  d.style.top = y + 'px';
  page.appendChild(d);
}

layout.forEach((lay, r) => {
  addText('well', wells[r], lay.name[0], lay.name[1]);
  const [dMin, dMax] = depthLimits[r];
  const yTicks = linTicks(dMin, dMax, depthMinorStep[r]);
  for (let c = 0; c < 6; c++) {
    addText('lbl ttl', variables[c], lay.tx[c], lay.titleY);
    const ax = lay.axes;
    const left = c === 0 ? 0 : Math.round((ax[c - 1][1] + ax[c][0]) / 2);
    const right = c === 5 ? (r === 1 ? 1141 : 1146) : Math.round((ax[c][1] + ax[c + 1][0]) / 2);
    const top = lay.top - 32, bottom = lay.bottom + 12;
    const yW = c === 0 ? 40 : 6;
    const cv = document.createElement('canvas');
    cv.width = right - left; cv.height = bottom - top;
    cv.style.left = left + 'px'; cv.style.top = top + 'px';
    cv.style.width = (right - left) + 'px'; cv.style.height = (bottom - top) + 'px';
    page.appendChild(cv);

    const xa = xAxisFor(r, c);
    const panel = wellData[r][c];
    const datasets = drawOrder.filter(k => panel[k]).map((k, i) => Object.assign({
      label: k,
      data: panel[k].map(p => ({ x: p[0], y: p[1] })),
      showLine: false,
      clip: false,
      order: -i
    }, styles[k]));

    new Chart(cv, {
      type: 'scatter',
      data: { datasets },
      plugins: [bandPlugin],
      options: {
        responsive: false,
        animation: false,
        events: [],
        layout: { autoPadding: false, padding: { left: ax[c][0] - left - yW, right: right - ax[c][1], top: 0, bottom: 12 } },
        plugins: {
          legend: { display: false },
          tooltip: { enabled: false },
          bands: { show: r === 1, first: c === 0, last: c === 5 }
        },
        scales: {
          x: {
            type: xa.type, position: 'top', min: xa.min, max: xa.max,
            afterBuildTicks: s => { s.ticks = xa.ticks.map(v => ({ value: v })); },
            afterFit: s => { s.height = 32; s.paddingLeft = 0; s.paddingRight = 0; },
            ticks: { autoSkip: false, maxRotation: 0, minRotation: 0, padding: 4.5, color: '#595959', font: tickFont,
              callback: v => findLabel(xa.labels, v) },
            grid: { drawOnChartArea: false, tickLength: 4, color: axisGray },
            border: { color: axisGray, width: 1.3 }
          },
          y: {
            type: 'linear', reverse: true, min: dMin, max: dMax,
            afterBuildTicks: s => { s.ticks = yTicks.map(v => ({ value: v })); },
            afterFit: s => { s.width = yW; s.paddingTop = 0; s.paddingBottom = 0; },
            ticks: { display: c === 0, autoSkip: false, padding: 3, color: '#595959', font: tickFont,
              callback: v => ((v - dMin) % depthLabelStep[r] === 0 ? String(v) : '') },
            grid: { drawOnChartArea: false, tickLength: 4, color: axisGray },
            border: { color: axisGray, width: 1.3 }
          }
        }
      }
    });
  }
});

addText('band', 'Granite', 52, 609);
addText('band', 'Norite', 176, 645);

// ---- legend ----
const legendX = [217, 305, 392, 484, 564, 635, 705, 793, 869];
const legendY = 1624;
const legendIcons = {
  HW1: '<svg width="10" height="10"><polygon points="5,1 9,9 1,9" fill="#92D050"/></svg>',
  HW2: '<svg width="10" height="12"><ellipse cx="5" cy="6" rx="4.5" ry="5" fill="#92D050"/></svg>',
  HW3: '<svg width="10" height="10"><rect x="1" y="1" width="8" height="9" fill="#92D050"/></svg>',
  BAR: '<svg width="13" height="14"><rect x="1.5" y="1.5" width="10" height="11" fill="#92D050" stroke="#000" stroke-width="2"/></svg>',
  Md: '<svg width="12" height="12"><polygon points="6,1 11,11 1,11" fill="#FFC000"/></svg>',
  M2: '<svg width="12" height="14"><ellipse cx="6" cy="7" rx="5.5" ry="6.5" fill="#FF0000"/></svg>',
  M1u: '<svg width="15" height="14"><polygon points="7.5,1.5 13.5,12.5 1.5,12.5" fill="#FF0000" stroke="#000" stroke-width="1.6"/></svg>',
  M1L: '<svg width="13" height="15"><rect x="0.5" y="0.5" width="12" height="14" fill="#34609A"/></svg>',
  FW1: '<svg width="12" height="16"><path d="M1.5,2 L10.5,14 M10.5,2 L1.5,14 M6,1 L6,15" stroke="#00B0F0" stroke-width="1.6" fill="none"/></svg>'
};
seriesNames.forEach((name, i) => {
  addText('legm', legendIcons[name], legendX[i], legendY);
  addText('leg', name, legendX[i] + 13, legendY);
});
</script>
</body>
</html>
